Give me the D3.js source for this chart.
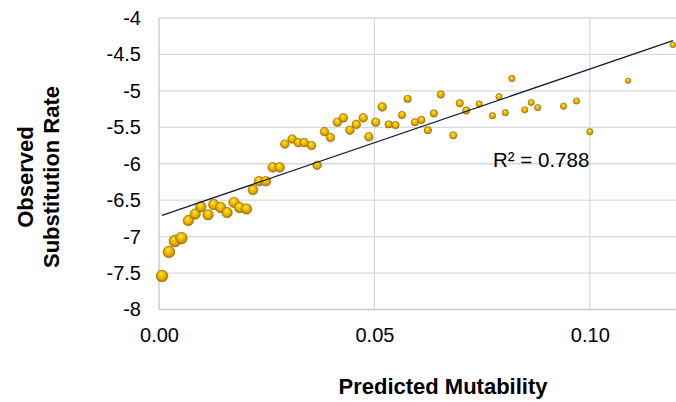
<!DOCTYPE html>
<html>
<head>
<meta charset="utf-8">
<script src="https://cdn.jsdelivr.net/npm/d3@7"></script>
<style>
  html, body { margin: 0; padding: 0; background: #ffffff; }
  svg { display: block; font-family: "Liberation Sans", Arial, sans-serif; }
</style>
</head>
<body>
<svg id="chart" width="676" height="402"></svg>
<script>
// Predicted mutability (x) against observed substitution rate (y, log scale)
const mutability = [
  0.0007, 0.0023, 0.0037, 0.0052, 0.0068, 0.0084, 0.0097, 0.0114, 0.0127, 0.0143,
  0.0158, 0.0174, 0.0187, 0.0203, 0.0218, 0.0232, 0.0248, 0.0264, 0.0280, 0.0292,
  0.0309, 0.0323, 0.0337, 0.0354, 0.0367, 0.0384, 0.0398, 0.0414, 0.0428, 0.0443,
  0.0458, 0.0474, 0.0487, 0.0503, 0.0518, 0.0533, 0.0549, 0.0564, 0.0577, 0.0594,
  0.0609, 0.0624, 0.0638, 0.0654, 0.0683, 0.0698, 0.0713, 0.0743, 0.0774, 0.0789,
  0.0804, 0.0819, 0.0849, 0.0864, 0.0879, 0.0939, 0.0969, 0.1000, 0.1089, 0.1193
];
const substitution = [
  -7.54, -7.21, -7.06, -7.02, -6.78, -6.69, -6.59, -6.70, -6.56, -6.60,
  -6.67, -6.53, -6.60, -6.62, -6.36, -6.24, -6.24, -6.05, -6.05, -5.73,
  -5.66, -5.71, -5.71, -5.75, -6.02, -5.56, -5.64, -5.43, -5.37, -5.54,
  -5.46, -5.37, -5.63, -5.43, -5.22, -5.46, -5.47, -5.33, -5.11, -5.43,
  -5.40, -5.54, -5.31, -5.05, -5.61, -5.17, -5.27, -5.18, -5.34, -5.08,
  -5.30, -4.83, -5.26, -5.16, -5.23, -5.21, -5.14, -5.56, -4.86, -4.37
];
// Relative bubble weight of each point
const bubbleWeight = [
  28, 28, 28, 28, 22, 22, 22, 22, 22, 22,
  22, 22, 22, 22, 19, 19, 19, 19, 19, 15,
  15, 15, 15, 15, 15, 15, 15, 15, 15, 15,
  15, 15, 15, 15, 15, 11, 11, 11, 11, 11,
  11, 11, 11, 11, 11, 11, 11, 8, 8, 8,
  8, 8, 8, 8, 8, 8, 8, 8, 6, 6
];

const xTicks = [0, 0.05, 0.10];
const xTickLabels = ["0.00", "0.05", "0.10"];
const yTicks = [-8, -7.5, -7, -6.5, -6, -5.5, -5, -4.5, -4];
const yTickLabels = ["-8", "-7.5", "-7", "-6.5", "-6", "-5.5", "-5", "-4.5", "-4"];
const rSquaredLabel = "R² = 0.788";

const svg = d3.select("#chart");

const x = d3.scaleLinear().domain([0, 0.12]).range([159, 676]);
const y = d3.scaleLinear().domain([-8, -4]).range([309.5, 18]);
const r = d3.scaleSqrt().domain([0, 30]).range([0, 6.1]);

// Sphere-like fill for the bubbles
const defs = svg.append("defs");
const grad = defs.append("radialGradient")
  .attr("id", "goldBall")
  .attr("cx", "0.5").attr("cy", "0.5").attr("r", "0.55")
  .attr("fx", "0.42").attr("fy", "0.28");
[["0%", "#fff4a0"], ["22%", "#ffd400"], ["65%", "#e3a900"], ["100%", "#8c6200"]]
  .forEach(([o, c]) => grad.append("stop").attr("offset", o).attr("stop-color", c));

// Gridlines
svg.append("g")
  .attr("class", "grid-y")
  .selectAll("line")
  .data(yTicks.filter(v => v !== -8))
  .join("line")
  .attr("x1", x(0)).attr("x2", x(0.12))
  .attr("y1", d => y(d)).attr("y2", d => y(d))
  .attr("stroke", "#d9d9d9").attr("stroke-width", 1.3);

svg.append("g")
  .attr("class", "grid-x")
  .selectAll("line")
  .data(xTicks.filter(v => v !== 0))
  .join("line")
  .attr("x1", d => x(d)).attr("x2", d => x(d))
  .attr("y1", y(-4)).attr("y2", y(-8))
  .attr("stroke", "#d9d9d9").attr("stroke-width", 1.3);

// Axes
const xAxis = d3.axisBottom(x)
  .tickValues(xTicks)
  .tickFormat((d, i) => xTickLabels[i])
  .tickSize(0).tickPadding(0);
const gx = svg.append("g")
  .attr("transform", `translate(0,${y(-8)})`)
  .call(xAxis);
gx.select(".domain").attr("stroke", "#c8c8c8").attr("stroke-width", 1.3)
  .attr("d", `M${x(0)},0H${x(0.12)}`);
gx.selectAll(".tick text")
  .attr("y", 0).attr("dy", null)
  .attr("transform", "translate(0,32.5)")
  .attr("fill", "#000").attr("font-size", 20)
  .attr("font-family", "Liberation Sans, Arial, sans-serif");

const yAxis = d3.axisLeft(y)
  .tickValues(yTicks)
  .tickFormat((d, i) => yTickLabels[i])
  .tickSize(0).tickPadding(18);
const gy = svg.append("g")
  .attr("transform", `translate(${x(0)},0)`)
  .call(yAxis);
gy.select(".domain").attr("stroke", "#c8c8c8").attr("stroke-width", 1.3)
  .attr("d", `M0,${y(-4)}V${y(-8)}`);
gy.selectAll(".tick text")
  .attr("fill", "#000").attr("font-size", 20)
  .attr("font-family", "Liberation Sans, Arial, sans-serif");

// Linear least-squares trendline over the data range
const n = mutability.length;
const mx = d3.mean(mutability), my = d3.mean(substitution);
let sxy = 0, sxx = 0;
for (let i = 0; i < n; i++) {
  sxy += (mutability[i] - mx) * (substitution[i] - my);
  sxx += (mutability[i] - mx) ** 2;
}
const slope = sxy / sxx;
const intercept = my - slope * mx;
const [xMin, xMax] = d3.extent(mutability);

// Bubbles
const points = mutability.map((m, i) => ({ m, s: substitution[i], w: bubbleWeight[i] }));
svg.append("g")
  .attr("class", "points")
  .selectAll("circle")
  .data(points)
  .join("circle")
  .attr("cx", d => x(d.m))
  .attr("cy", d => y(d.s))
  .attr("r", d => r(d.w))
  .attr("fill", "url(#goldBall)")
  .attr("stroke", "#9c7200")
  .attr("stroke-width", 0.6);

svg.append("line")
  .attr("class", "trendline")
  .attr("x1", x(xMin)).attr("y1", y(intercept + slope * xMin))
  .attr("x2", x(xMax)).attr("y2", y(intercept + slope * xMax))
  .attr("stroke", "#0f1f3d").attr("stroke-width", 1.4);

// Labels
svg.append("text")
  .attr("x", 493).attr("y", 167)
  .attr("font-size", 20.5).attr("fill", "#000")
  .text(rSquaredLabel);

svg.append("text")
  .attr("x", 443).attr("y", 394)
  .attr("text-anchor", "middle")
  .attr("font-size", 22).attr("font-weight", "bold").attr("fill", "#000")
  .text("Predicted Mutability");

const yTitle = svg.append("text")
  .attr("transform", "translate(0,177) rotate(-90)")
  .attr("text-anchor", "middle")
  .attr("font-size", 22).attr("font-weight", "bold").attr("fill", "#000");
yTitle.append("tspan").attr("x", 0).attr("y", 32.5).text("Observed");
yTitle.append("tspan").attr("x", 0).attr("y", 58.5).text("Substitution Rate");
</script>
</body>
</html>
